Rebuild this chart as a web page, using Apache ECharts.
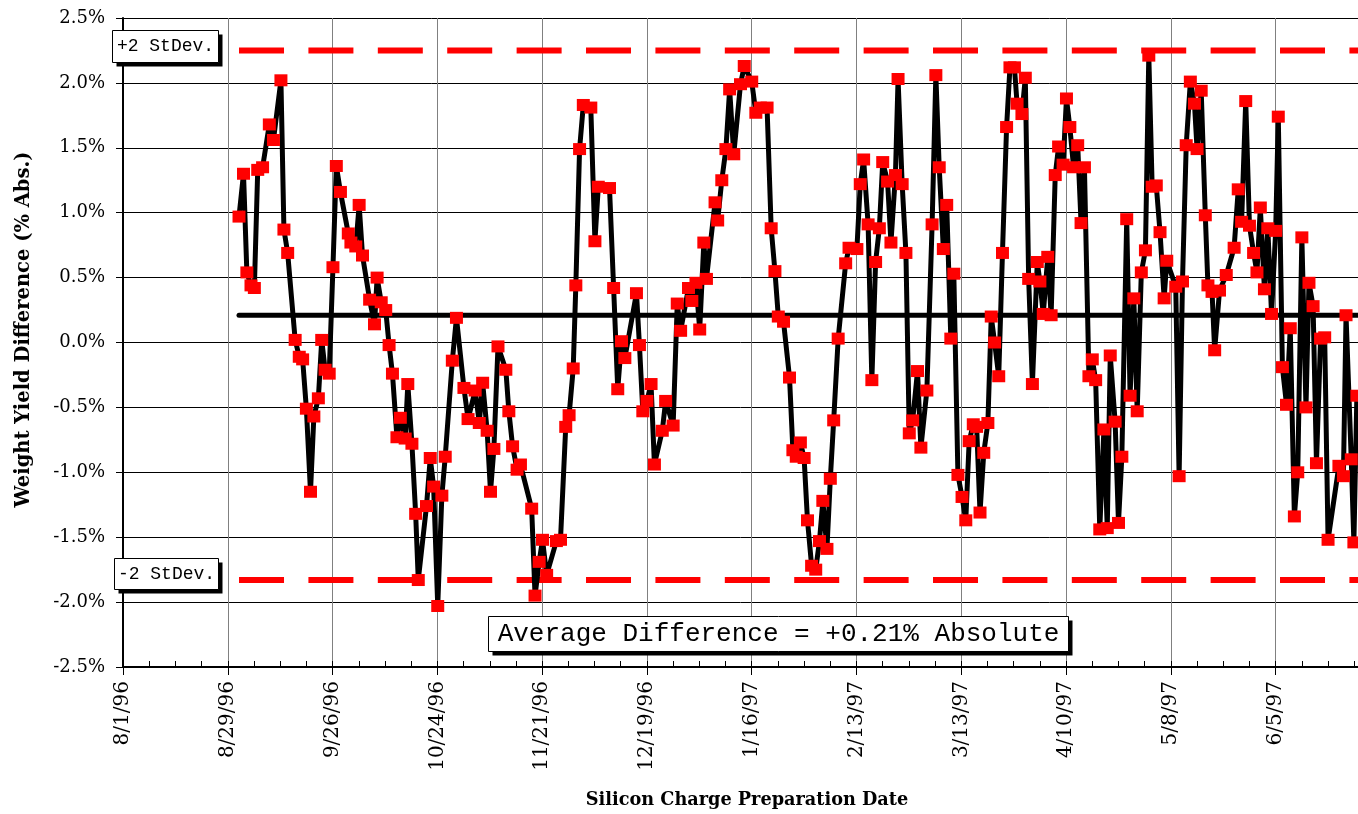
<!DOCTYPE html>
<html>
<head>
<meta charset="utf-8">
<script src="https://cdn.jsdelivr.net/npm/echarts@6/dist/echarts.min.js"></script>
<style>
html,body{margin:0;padding:0;background:#fff;}
#chart{width:1358px;height:814px;}
</style>
</head>
<body>
<div id="chart"></div>
<script>
// x tick labels (every 28 days, starting 8/1/96 = day 0)
const tickLabels = ['8/1/96','8/29/96','9/26/96','10/24/96','11/21/96','12/19/96','1/16/97','2/13/97','3/13/97','4/10/97','5/8/97','6/5/97'];
const yTickLabels = ['-2.5%','-2.0%','-1.5%','-1.0%','-0.5%','0.0%','0.5%','1.0%','1.5%','2.0%','2.5%'];

// days since 8/1/96 for each charge
const dayOffsets = [
31.0,32.2,33.1,34.2,35.1,36.0,37.3,39.1,40.2,42.2,43.0,44.0,46.0,47.1,48.0,49.0,50.1,51.0,52.2,53.1,
54.0,55.1,56.1,57.0,58.1,60.2,60.9,62.2,63.1,64.0,65.9,67.2,67.9,69.0,70.2,71.1,72.0,73.2,74.1,75.4,
76.1,77.2,78.2,78.9,81.1,82.1,83.0,84.1,85.2,86.1,88.0,89.1,91.1,92.2,94.1,95.2,96.1,97.3,98.2,99.1,
100.2,102.3,103.1,104.1,105.3,106.2,109.2,110.1,111.2,112.1,113.2,115.8,116.9,118.3,119.2,120.3,121.0,122.0,123.0,125.0,
126.1,127.0,130.0,131.1,132.2,133.2,134.1,137.2,138.0,138.9,140.0,141.1,142.0,144.1,145.0,147.0,148.1,149.0,151.1,152.0,
153.1,154.1,155.2,155.9,158.2,158.9,160.0,161.1,162.1,163.2,165.0,166.0,168.0,169.1,170.3,172.1,173.2,174.2,175.1,176.5,
178.1,179.0,179.9,181.0,182.0,182.9,184.0,185.1,186.1,187.0,188.1,189.0,189.9,191.1,193.1,194.0,196.1,197.0,197.9,199.1,
200.1,201.1,202.1,203.0,204.3,205.2,206.4,207.1,208.2,209.2,210.1,211.0,212.3,213.2,214.8,216.2,217.2,218.1,219.2,220.1,
221.2,222.0,223.1,224.2,225.2,226.1,227.2,228.1,229.0,230.0,231.1,232.0,232.9,234.0,235.0,236.1,237.0,238.2,238.9,240.2,
241.1,242.0,243.0,244.3,245.0,245.9,247.1,248.0,249.1,250.0,251.2,252.1,253.0,254.0,255.1,256.0,256.9,258.1,259.0,259.9,
261.0,262.1,263.0,263.8,265.1,266.0,266.9,268.2,269.1,270.1,271.0,272.1,273.2,274.1,275.0,276.1,277.1,278.2,278.9,281.3,
282.2,283.1,284.1,285.2,286.3,287.0,288.1,289.2,289.9,291.0,291.7,293.0,294.8,296.9,298.0,298.9,300.0,301.0,302.1,303.0,
303.9,305.0,305.9,306.9,308.0,308.7,309.8,310.9,311.9,313.0,313.9,315.0,316.1,316.9,318.0,318.9,320.0,321.1,322.0,324.9,
326.1,326.8,328.2,328.9,329.7
];
// weight yield difference (% absolute)
const yieldDiff = [
0.97,1.30,0.54,0.44,0.42,1.33,1.35,1.68,1.56,2.02,0.87,0.69,0.02,-0.11,-0.13,-0.51,-1.15,-0.57,-0.43,0.02,
-0.21,-0.24,0.58,1.36,1.16,0.84,0.77,0.74,1.06,0.67,0.33,0.14,0.50,0.31,0.25,-0.02,-0.24,-0.73,-0.58,-0.74,
-0.32,-0.78,-1.32,-1.83,-1.26,-0.89,-1.11,-2.03,-1.18,-0.88,-0.14,0.19,-0.35,-0.59,-0.37,-0.62,-0.31,-0.68,-1.15,-0.82,
-0.03,-0.21,-0.53,-0.80,-0.98,-0.94,-1.28,-1.95,-1.69,-1.52,-1.79,-1.53,-1.52,-0.65,-0.56,-0.20,0.44,1.49,1.83,1.81,
0.78,1.20,1.19,0.42,-0.36,0.01,-0.12,0.38,-0.02,-0.53,-0.45,-0.32,-0.94,-0.68,-0.45,-0.64,0.30,0.09,0.42,0.32,
0.46,0.10,0.77,0.49,1.08,0.94,1.25,1.49,1.95,1.45,1.99,2.13,2.01,1.77,1.81,1.81,0.88,0.55,0.20,0.16,
-0.27,-0.83,-0.88,-0.77,-0.89,-1.37,-1.72,-1.75,-1.53,-1.22,-1.59,-1.05,-0.60,0.03,0.61,0.73,0.72,1.22,1.41,0.91,
-0.29,0.62,0.88,1.39,1.24,0.77,1.29,2.03,1.22,0.69,-0.70,-0.60,-0.22,-0.81,-0.37,0.91,2.06,1.35,0.72,1.06,
0.03,0.53,-1.02,-1.19,-1.37,-0.76,-0.63,-0.65,-1.31,-0.85,-0.62,0.20,0.00,-0.26,0.69,1.66,2.12,2.12,1.84,1.76,
2.04,0.49,-0.32,0.62,0.47,0.22,0.66,0.21,1.29,1.51,1.37,1.88,1.66,1.35,1.52,0.92,1.35,-0.26,-0.13,-0.29,
-1.44,-0.67,-1.43,-0.10,-0.61,-1.39,-0.88,0.95,-0.41,0.34,-0.53,0.54,0.71,2.21,1.20,1.21,0.85,0.34,0.63,0.43,
-1.03,0.47,1.52,2.01,1.84,1.49,1.94,0.98,0.44,0.39,-0.06,0.40,0.52,0.73,1.18,0.93,1.86,0.90,0.69,0.54,
1.04,0.41,0.88,0.22,0.86,1.74,-0.19,-0.48,0.11,-1.34,-1.00,0.81,-0.50,0.46,0.28,-0.93,0.03,0.04,-1.52,-0.95,
-1.03,0.21,-0.90,-1.54,-0.41
];

const averageDiff = 0.21;
const upperLimit = 2.25;   // +2 StDev
const lowerLimit = -1.83;  // -2 StDev
const xMax = 330;

const points = dayOffsets.map((d, i) => [d, yieldDiff[i]]);
const x0 = dayOffsets[0];

const chart = echarts.init(document.getElementById('chart'), null, {renderer: 'canvas'});
const serif = 'DejaVu Serif';
const mono = 'Liberation Mono';

function box(x, y, w, h, text, size) {
  return {
    type: 'group', left: x, top: y, z: 100,
    children: [
      {type: 'rect', z: 100, shape: {x: 4, y: 4, width: w, height: h}, style: {fill: '#000'}},
      {type: 'rect', z: 101, shape: {x: 0, y: 0, width: w, height: h}, style: {fill: '#fff', stroke: '#000', lineWidth: 1}},
      {type: 'text', z: 102, x: w / 2, y: h / 2, style: {text: text, fill: '#000', font: size + 'px "' + mono + '"', align: 'center', verticalAlign: 'middle'}}
    ]
  };
}

chart.setOption({
  animation: false,
  backgroundColor: '#fff',
  grid: {left: 123, right: 0, top: 18, bottom: 147, containLabel: false, outerBoundsMode: 'none'},
  xAxis: [{
    type: 'value', min: 0, max: xMax, interval: 28,
    name: 'Silicon Charge Preparation Date', nameLocation: 'middle', nameGap: 124,
    nameTextStyle: {fontFamily: serif, fontWeight: 'bold', fontSize: 17.7, color: '#000', padding: [0, 0, 0, 13]},
    axisLine: {show: true, onZero: false, lineStyle: {color: '#000', width: 2}},
    axisTick: {show: true, inside: false, length: 8, lineStyle: {color: '#000', width: 1}},
    axisLabel: {
      rotate: 90, margin: 14, fontFamily: serif, fontSize: 20, color: '#000',
      formatter: v => (Math.abs(v % 28) < 1e-6 ? (tickLabels[Math.round(v / 28)] || '') : '')
    },
    splitLine: {show: true, lineStyle: {color: '#808080', width: 1}}
  }, {
    type: 'value', min: 0, max: xMax, interval: 7, position: 'bottom',
    axisLine: {show: false, onZero: false},
    axisTick: {show: true, inside: true, length: 6, lineStyle: {color: '#000', width: 1}},
    axisLabel: {show: false},
    splitLine: {show: false}
  }],
  yAxis: {
    type: 'value', min: -2.5, max: 2.5, interval: 0.5,
    name: 'Weight Yield Difference (% Abs.)', nameLocation: 'middle', nameGap: 89,
    nameTextStyle: {fontFamily: serif, fontWeight: 'bold', fontSize: 19.5, color: '#000', padding: [0, 0, 0, 26]},
    axisLine: {show: true, onZero: false, lineStyle: {color: '#000', width: 2}},
    axisTick: {show: true, inside: false, length: 7, lineStyle: {color: '#000', width: 1}},
    axisLabel: {
      margin: 18, fontFamily: serif, fontSize: 18, color: '#000',
      formatter: v => yTickLabels[Math.round((v + 2.5) / 0.5)] || ''
    },
    splitLine: {show: true, lineStyle: {color: '#000', width: 1}}
  },
  series: [
    {
      type: 'line', xAxisIndex: 0, silent: true, showSymbol: false, z: 2,
      data: [[x0, upperLimit], [xMax, upperLimit]],
      lineStyle: {color: '#ff0000', width: 6, type: [45, 24.4], cap: 'butt'}
    },
    {
      type: 'line', xAxisIndex: 0, silent: true, showSymbol: false, z: 2,
      data: [[x0, lowerLimit], [xMax, lowerLimit]],
      lineStyle: {color: '#ff0000', width: 6, type: [45, 24.4], cap: 'butt'}
    },
    {
      type: 'line', xAxisIndex: 0, silent: true, showSymbol: false, z: 3,
      data: [[x0, averageDiff], [xMax, averageDiff]],
      lineStyle: {color: '#000', width: 5, cap: 'round'}
    },
    {
      type: 'line', xAxisIndex: 0, z: 4,
      data: points,
      symbol: 'rect', symbolSize: [13, 12], showAllSymbol: true,
      itemStyle: {color: '#ff0000'},
      lineStyle: {color: '#000', width: 5, join: 'round'}
    }
  ],
  graphic: [
    box(112, 30, 106, 32, '+2 StDev.', 18),
    box(114, 558, 104, 31, '-2 StDev.', 18),
    box(488, 616, 580, 35, 'Average Difference = +0.21% Absolute', 26)
  ]
});
</script>
</body>
</html>
